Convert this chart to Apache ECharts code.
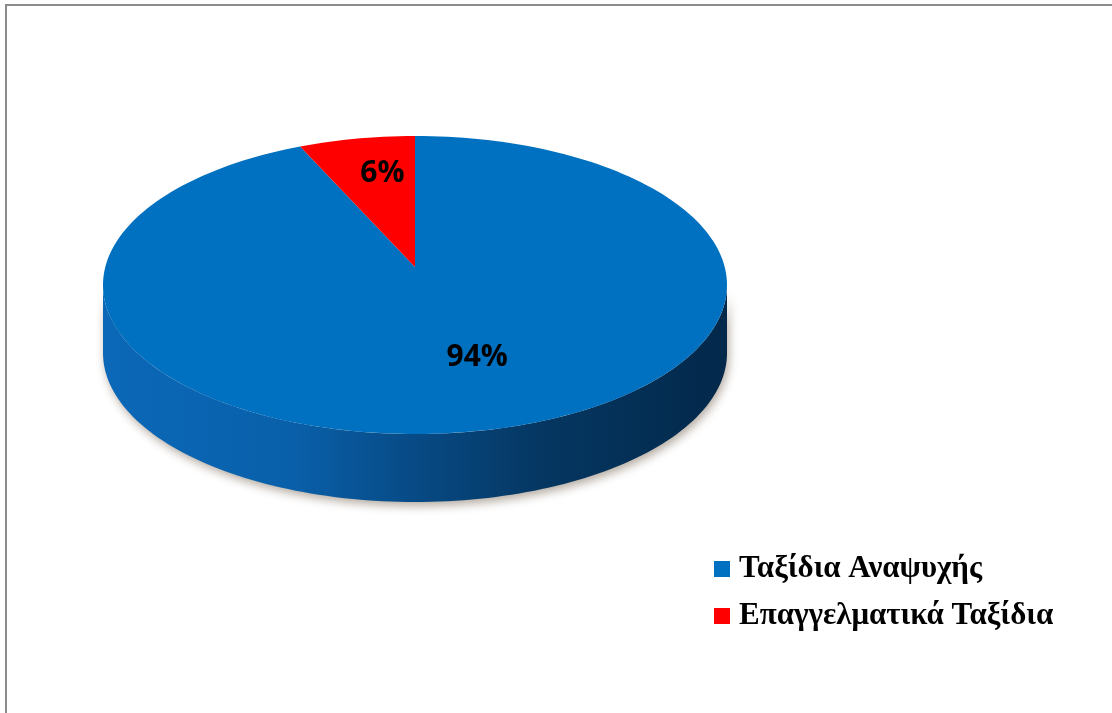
<!DOCTYPE html>
<html>
<head>
<meta charset="utf-8">
<script src="https://cdn.jsdelivr.net/npm/echarts@6/dist/echarts.min.js"></script>
<style>
  html, body { margin: 0; padding: 0; background: #ffffff; }
  #chart { width: 1112px; height: 713px; }
</style>
</head>
<body>
<div id="chart"></div>
<script>
// Trip purpose shares (percent)
const categories = ['Ταξίδια Αναψυχής', 'Επαγγελματικά Ταξίδια'];
const values = [94, 6];
const topColors = ['#0070c0', '#ff0000'];

// Geometry of the tilted disc (pixels)
const DISC = { cx: 415, cy: 285, rx: 312, ry: 149, depth: 68, apexDy: -18, startAngle: 90 };
// Where each percentage label sits: fraction along the mid-angle ray, plus a horizontal nudge
const LABEL_AT = [{ f: 0.55, dx: 30 }, { f: 0.73, dx: 10 }];

const total = values.reduce((a, b) => a + b, 0);
// slices run clockwise from 12 o'clock
const spans = [];
let acc = DISC.startAngle;
values.forEach(v => {
  const sweep = v / total * 360;
  spans.push([acc, acc - sweep]);
  acc -= sweep;
});

function rim(deg, dy) {
  const t = deg * Math.PI / 180;
  return [DISC.cx + DISC.rx * Math.cos(t), DISC.cy - DISC.ry * Math.sin(t) + (dy || 0)];
}
function arcPoints(a0, a1, dy) {
  const pts = [];
  const n = Math.max(2, Math.ceil(Math.abs(a0 - a1) / 1.5));
  for (let i = 0; i <= n; i++) pts.push(rim(a0 + (a1 - a0) * i / n, dy));
  return pts;
}

function renderSlice(idx) {
  return function (params, api) {
    const v = api.value(0);
    const [aStart, aEnd] = spans[idx];
    const apex = [DISC.cx, DISC.cy + DISC.apexDy];
    const children = [];

    // front wall: parts of the slice whose rim faces the viewer (angles in (-180, 0) mod 360)
    for (let k = -2; k <= 1; k++) {
      const lo = Math.max(aEnd, -180 + 360 * k);
      const hi = Math.min(aStart, 360 * k);
      if (hi - lo > 0.01) {
        const top = arcPoints(hi, lo, 0);
        const bottom = arcPoints(lo, hi, DISC.depth);
        children.push({
          type: 'polygon',
          z2: 1,
          shape: { points: top.concat(bottom) },
          style: {
            fill: idx === 0 ? new echarts.graphic.LinearGradient(0, 0, 1, 0, [
              { offset: 0, color: '#0b68b8' },
              { offset: 0.3, color: '#0960aa' },
              { offset: 0.5, color: '#074a85' },
              { offset: 0.7, color: '#053762' },
              { offset: 1, color: '#03284a' }
            ]) : '#b30000',
            shadowBlur: 10,
            shadowOffsetX: 2,
            shadowOffsetY: 4,
            shadowColor: 'rgba(90,70,50,0.45)'
          }
        });
      }
    }

    // top face
    children.push({
      type: 'polygon',
      z2: 10,
      shape: { points: [apex].concat(arcPoints(aStart, aEnd, 0)) },
      style: { fill: topColors[idx] }
    });

    // percentage label
    const mid = (aStart + aEnd) / 2;
    const r = rim(mid, 0);
    const L = LABEL_AT[idx];
    children.push({
      type: 'text',
      z2: 20,
      x: apex[0] + (r[0] - apex[0]) * L.f + L.dx,
      y: apex[1] + (r[1] - apex[1]) * L.f,
      style: {
        text: v + '%',
        fill: '#000000',
        font: 'bold 30px "Open Sans", sans-serif',
        align: 'center',
        verticalAlign: 'middle'
      }
    });

    return { type: 'group', children: children };
  };
}

const chart = echarts.init(document.getElementById('chart'), null, { renderer: 'canvas' });
chart.setOption({
  backgroundColor: '#ffffff',
  animation: false,
  graphic: [{
    type: 'rect',
    shape: { x: 6, y: 5, width: 1200, height: 800 },
    style: { fill: 'none', stroke: '#8c8c8c', lineWidth: 2 },
    silent: true
  }],
  legend: {
    orient: 'vertical',
    left: 709,
    top: 548,
    itemWidth: 16,
    itemHeight: 16,
    itemGap: 15,
    icon: 'rect',
    data: categories,
    textStyle: {
      fontFamily: '"Liberation Serif", "DejaVu Serif", serif',
      fontWeight: 'bold',
      fontSize: 31,
      lineHeight: 32,
      color: '#000000',
      padding: [0, 0, 0, 4]
    }
  },
  series: categories.map((name, i) => ({
    type: 'custom',
    name: name,
    coordinateSystem: 'none',
    itemStyle: { color: topColors[i] },
    data: [[values[i]]],
    renderItem: renderSlice(i)
  }))
});
</script>
</body>
</html>
